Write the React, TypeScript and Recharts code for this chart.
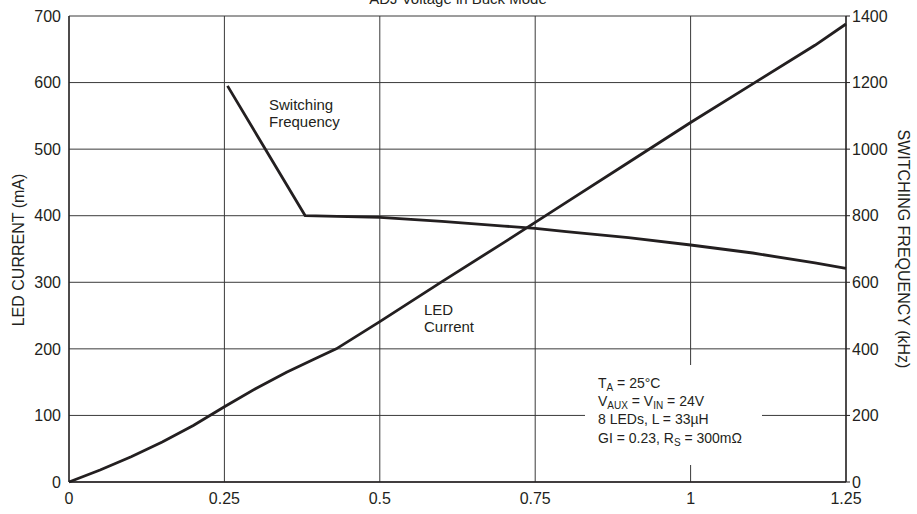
import { LineChart, Line, XAxis, YAxis, CartesianGrid } from "recharts";

// ADJ voltage (V) vs LED current (mA)
const ledAdj = [0, 0.05, 0.1, 0.15, 0.2, 0.25, 0.3, 0.35, 0.4, 0.43, 0.5, 0.6, 0.7, 0.75, 0.8, 0.9, 1.0, 1.1, 1.2, 1.25];
const ledCurrent = [0, 18, 38, 60, 85, 113, 140, 165, 187, 200, 241, 301, 360, 390, 420, 480, 540, 598, 656, 688];

// ADJ voltage (V) vs switching frequency (kHz)
const freqAdj = [0.255, 0.38, 0.5, 0.6, 0.7, 0.75, 0.8, 0.9, 1.0, 1.1, 1.2, 1.25];
const freqKhz = [1190, 800, 795, 783, 769, 762, 752, 734, 712, 688, 658, 642];

const xTicks = [0, 0.25, 0.5, 0.75, 1, 1.25];
const leftTicks = [0, 100, 200, 300, 400, 500, 600, 700];
const rightTicks = [0, 200, 400, 600, 800, 1000, 1200, 1400];

const ledData = ledAdj.map((x, i) => ({ x, led: ledCurrent[i] }));
const freqData = freqAdj.map((x, i) => ({ x, freq: freqKhz[i] }));

const INK = "#231f20";
const FONT = "'Liberation Sans', Arial, sans-serif";
const tickStyle = { fill: INK, fontSize: 16, fontFamily: FONT };

export default function App() {
  return (
    <div style={{ position: "absolute", left: 0, top: 0, width: 917, height: 514, background: "#fff" }}>
      <LineChart width={917} height={514} margin={{ top: 16, right: 0, bottom: 0, left: 0 }}>
        <CartesianGrid yAxisId="left" stroke="#3a3a3a" strokeWidth={1} />
        <XAxis
          type="number"
          dataKey="x"
          domain={[0, 1.25]}
          ticks={xTicks}
          height={32}
          tickLine={false}
          axisLine={{ stroke: INK, strokeWidth: 1.3 }}
          tick={tickStyle}
          tickMargin={5}
          allowDuplicatedCategory={false}
        />
        <YAxis
          yAxisId="left"
          domain={[0, 700]}
          ticks={leftTicks}
          width={69}
          tickLine={false}
          axisLine={{ stroke: INK, strokeWidth: 1.3 }}
          tick={tickStyle}
          tickMargin={2}
        />
        <YAxis
          yAxisId="right"
          orientation="right"
          domain={[0, 1400]}
          ticks={rightTicks}
          width={71}
          tickSize={4}
          tickLine={{ stroke: INK }}
          axisLine={{ stroke: INK, strokeWidth: 1.3 }}
          tick={tickStyle}
          tickMargin={2}
        />
        <Line
          yAxisId="left"
          data={ledData}
          dataKey="led"
          type="linear"
          stroke={INK}
          strokeWidth={2.8}
          dot={false}
          isAnimationActive={false}
        />
        <Line
          yAxisId="right"
          data={freqData}
          dataKey="freq"
          type="linear"
          stroke={INK}
          strokeWidth={2.8}
          strokeLinejoin="round"
          dot={false}
          isAnimationActive={false}
        />
      </LineChart>
      <svg
        width={917}
        height={514}
        style={{ position: "absolute", left: 0, top: 0, pointerEvents: "none" }}
        fontFamily={FONT}
        fill={INK}
      >
        <text x={458} y={4} fontSize={15} textAnchor="middle">ADJ Voltage in Buck Mode</text>
        <text x={18} y={250} fontSize={16} textAnchor="middle" dominantBaseline="central" transform="rotate(-90 18 250)">LED CURRENT (mA)</text>
        <text x={903} y={249} fontSize={16} textAnchor="middle" dominantBaseline="central" transform="rotate(90 903 249)">SWITCHING FREQUENCY (kHz)</text>
        <text x={269} y={110} fontSize={15}>Switching</text>
        <text x={269} y={127} fontSize={15}>Frequency</text>
        <text x={424} y={315} fontSize={15}>LED</text>
        <text x={424} y={332} fontSize={15}>Current</text>
        <rect x={585} y={365} width={177} height={100} fill="#fff" />
        <g fontSize={14}>
          <text x={598} y={388}>
            T<tspan fontSize={10} dy={3}>A</tspan>
            <tspan dy={-3}> = 25°C</tspan>
          </text>
          <text x={598} y={406}>
            V<tspan fontSize={10} dy={3}>AUX</tspan>
            <tspan dy={-3}> = V</tspan>
            <tspan fontSize={10} dy={3}>IN</tspan>
            <tspan dy={-3}> = 24V</tspan>
          </text>
          <text x={598} y={424}>8 LEDs, L = 33µH</text>
          <text x={598} y={443}>
            GI = 0.23, R<tspan fontSize={10} dy={3}>S</tspan>
            <tspan dy={-3}> = 300mΩ</tspan>
          </text>
        </g>
      </svg>
    </div>
  );
}
